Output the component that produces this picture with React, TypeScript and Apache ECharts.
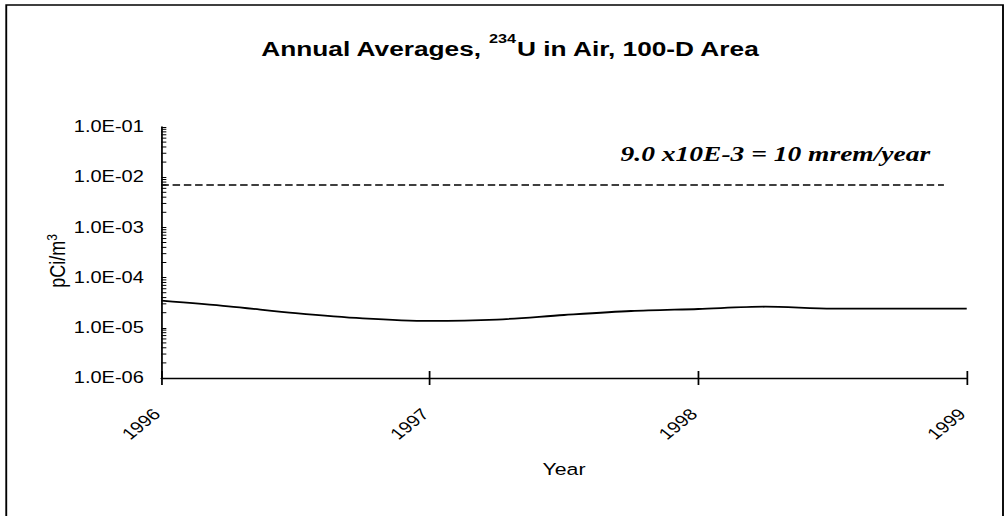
import React, { useEffect, useRef } from "react";
import * as echarts from "echarts";

// ---- data (at quarter-year steps) ----
const xYears = [1996, 1996.25, 1996.5, 1996.75, 1997, 1997.25, 1997.5, 1997.75, 1998, 1998.25, 1998.5, 1998.75, 1999];
const u234Air = [3.47e-5, 2.68e-5, 1.96e-5, 1.54e-5, 1.37e-5, 1.46e-5, 1.8e-5, 2.16e-5, 2.37e-5, 2.63e-5, 2.4e-5, 2.4e-5, 2.4e-5];
const limitValue = 7.0e-3;
const limitSpan = [1996, 1998.915];
const yMin = 1e-6;
const yMax = 1e-1;
const yDecades = [1e-6, 1e-5, 1e-4, 1e-3, 1e-2];
const minorMultipliers = [2, 3, 4, 5, 6, 7, 8, 9];
const titleText = "Annual Averages, {sup|234}U in Air, 100-D Area";
const limitText = "9.0 x10E-3 = 10 mrem/year";
const yName = "pCi/m{sup|3}";
const xName = "Year";

// chart is drawn at a narrower width, then stretched horizontally like the original
const INNER_W = 806;
const H = 516;
const SX = 1008 / INNER_W;
const SANS = '"Liberation Sans", Arial, sans-serif';
const SERIF = '"Liberation Serif", "Times New Roman", serif';

const minorTicks: number[][] = [];
yDecades.forEach((d) => minorMultipliers.forEach((m) => minorTicks.push([xYears[0], d * m])));

function fmtExp(v: number) {
  const e = Math.round(Math.log10(v));
  return "1.0E" + (e < 0 ? "-" : "+") + String(Math.abs(e)).padStart(2, "0");
}

export default function App() {
  const ref = useRef<HTMLDivElement>(null);
  useEffect(() => {
    const chart = echarts.init(ref.current!, null, { renderer: "svg" });
    const axisLine = { lineStyle: { color: "#000", width: 1.4 } };
    chart.setOption({
      animation: false,
      backgroundColor: "#fff",
      grid: {
        left: 129,
        right: INNER_W - 773,
        top: 127,
        bottom: H - 378,
        containLabel: false,
        outerBoundsMode: "none",
      },
      xAxis: [
        {
          type: "value",
          min: 1996,
          max: 1999,
          interval: 1,
          position: "bottom",
          name: xName,
          nameLocation: "middle",
          nameGap: 83,
          nameTextStyle: { fontFamily: SANS, fontSize: 17, color: "#000" },
          axisLine,
          axisTick: { show: true, inside: false, length: 7, lineStyle: { color: "#000", width: 1.4 } },
          axisLabel: {
            rotate: 45,
            margin: 30,
            padding: [0, 5, 0, 0],
            fontFamily: SANS,
            fontSize: 16,
            color: "#000",
            formatter: (v: number) => String(v),
          },
          splitLine: { show: false },
        },
        {
          type: "value",
          min: 1996,
          max: 1999,
          interval: 1,
          position: "bottom",
          offset: 0,
          axisLine: { show: false },
          axisTick: { show: true, inside: true, length: 7, lineStyle: { color: "#000", width: 1.4 } },
          axisLabel: { show: false },
          splitLine: { show: false },
        },
      ],
      yAxis: {
        type: "log",
        logBase: 10,
        min: yMin,
        max: yMax,
        axisLine,
        axisTick: { show: true, inside: true, length: 4, lineStyle: { color: "#000", width: 1 } },
        axisLabel: { margin: 14, fontFamily: SANS, fontSize: 16, color: "#000", formatter: fmtExp },
        splitLine: { show: false },
      },
      graphic: [
        {
          type: "rect",
          shape: { x: 5, y: 5, width: 797, height: 600 },
          style: { fill: "none", stroke: "#000", lineWidth: 1.5 },
          silent: true,
        },
        {
          type: "text",
          x: 408,
          y: 48,
          style: {
            text: titleText,
            fontFamily: SANS,
            fontSize: 21,
            fontWeight: "bold",
            fill: "#000",
            align: "center",
            verticalAlign: "middle",
            rich: { sup: { fontFamily: SANS, fontSize: 13, fontWeight: "bold", fill: "#000", padding: [0, 0, 18, 0] } },
          },
        },
        {
          type: "text",
          x: 46,
          y: 261,
          rotation: Math.PI / 2,
          style: {
            text: yName,
            fontFamily: SANS,
            fontSize: 18,
            fill: "#000",
            align: "center",
            verticalAlign: "middle",
            rich: { sup: { fontFamily: SANS, fontSize: 12, fill: "#000", padding: [0, 0, 9, 0] } },
          },
        },
        {
          type: "text",
          x: 620,
          y: 153,
          style: {
            text: limitText,
            fontFamily: SERIF,
            fontSize: 22,
            fontWeight: "bold",
            fontStyle: "italic",
            fill: "#000",
            align: "center",
            verticalAlign: "middle",
          },
        },
      ],
      series: [
        {
          type: "line",
          name: "234U",
          data: xYears.map((y, i) => [y, u234Air[i]]),
          smooth: 0.3,
          symbol: "none",
          lineStyle: { color: "#000", width: 1.8 },
          z: 3,
        },
        {
          type: "line",
          name: "limit",
          data: limitSpan.map((x) => [x, limitValue]),
          symbol: "none",
          lineStyle: { color: "#000", width: 1.4, type: [6, 3] },
          z: 3,
        },
        {
          type: "custom",
          name: "minorTicks",
          data: minorTicks,
          silent: true,
          renderItem: (params: any, api: any) => {
            const p = api.coord([api.value(0), api.value(1)]);
            return {
              type: "line",
              shape: { x1: p[0], y1: p[1], x2: p[0] + 4, y2: p[1] },
              style: { stroke: "#000", lineWidth: 1 },
            };
          },
          z: 4,
        },
      ],
    });
    return () => chart.dispose();
  }, []);
  return (
    <div
      style={{
        position: "fixed",
        left: 0,
        top: 0,
        width: 1008,
        height: H,
        overflow: "hidden",
        background: "#fff",
      }}
    >
      <div
        ref={ref}
        style={{ width: INNER_W, height: H, transform: `scaleX(${SX})`, transformOrigin: "0 0" }}
      />
    </div>
  );
}
